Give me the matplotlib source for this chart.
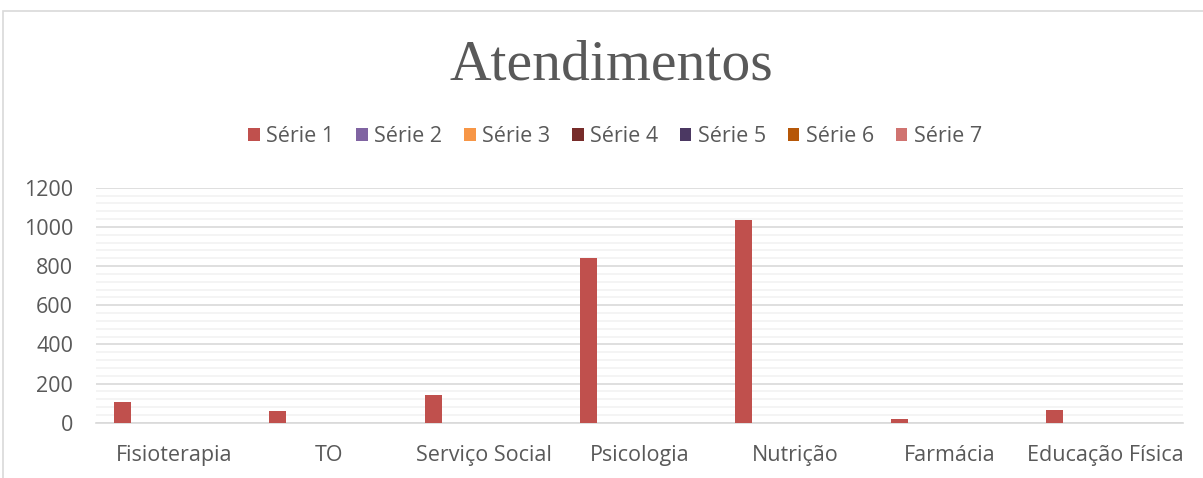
import matplotlib
matplotlib.use("Agg")
import matplotlib.pyplot as plt
from matplotlib.patches import Rectangle
from matplotlib.ticker import MultipleLocator
import numpy as np

categories = ["Fisioterapia", "TO", "Serviço Social", "Psicologia", "Nutrição", "Farmácia", "Educação Física"]
series_names = ["Série 1", "Série 2", "Série 3", "Série 4", "Série 5", "Série 6", "Série 7"]
serie1 = [107, 60, 143, 841, 1037, 17, 63]
serie2 = [0, 0, 0, 0, 0, 0, 0]
serie3 = [0, 0, 0, 0, 0, 0, 0]
serie4 = [0, 0, 0, 0, 0, 0, 0]
serie5 = [0, 0, 0, 0, 0, 0, 0]
serie6 = [0, 0, 0, 0, 0, 0, 0]
serie7 = [0, 0, 0, 0, 0, 0, 0]
all_series = [serie1, serie2, serie3, serie4, serie5, serie6, serie7]
colors = ["#C0504D", "#8064A2", "#F79646", "#772C2A", "#4B3862", "#B65708", "#D07370"]

fig = plt.figure(figsize=(12.03, 4.78), dpi=100)
fig.patches.append(Rectangle((3/1203, -0.1), 1.2, (478-11)/478 + 0.1, transform=fig.transFigure,
                             fill=False, edgecolor="#d9d9d9", linewidth=1.2))

ax = fig.add_axes([96/1203, 55.3/478, (1183-96)/1203, (422.7-187.7)/478])
x = np.arange(len(categories))
w = 17/155.3
for i, (vals, name, c) in enumerate(zip(all_series, series_names, colors)):
    ax.bar(x + (i - 3) * w, vals, width=w, color=c, label=name, zorder=3)

ax.set_xlim(-0.5, len(categories) - 0.5)
ax.set_ylim(0, 1200)
ax.yaxis.set_major_locator(MultipleLocator(200))
ax.yaxis.set_minor_locator(MultipleLocator(40))
ax.grid(axis="y", which="major", color="#d9d9d9", linewidth=1.2, zorder=0)
ax.grid(axis="y", which="minor", color="#f2f2f2", linewidth=1.2, zorder=0)
for s in ["top", "right", "left"]:
    ax.spines[s].set_visible(False)
ax.spines["bottom"].set_color("#d9d9d9")
ax.spines["bottom"].set_linewidth(1.2)
ax.set_xticks(x)
ax.set_xticklabels(categories)
ax.tick_params(axis="both", which="both", length=0, labelsize=15.5, labelcolor="#595959")
ax.tick_params(axis="x", pad=16)
ax.tick_params(axis="y", pad=16.5)
for lab in ax.get_xticklabels() + ax.get_yticklabels():
    lab.set_family("Open Sans")

fig.text(611/1203, 1 - 65/478, "Atendimentos", ha="center", va="center",
         fontsize=41.5, color="#595959", family="Liberation Serif")

leg = fig.legend(loc="center", bbox_to_anchor=(615/1203, 1 - 137/478), ncol=7, frameon=False,
                 prop={"family": "Open Sans", "size": 15.5}, handlelength=0.55, handleheight=0.55,
                 handletextpad=0.3, columnspacing=1.0)
for t in leg.get_texts():
    t.set_color("#595959")

fig.savefig("out.png", dpi=100)
